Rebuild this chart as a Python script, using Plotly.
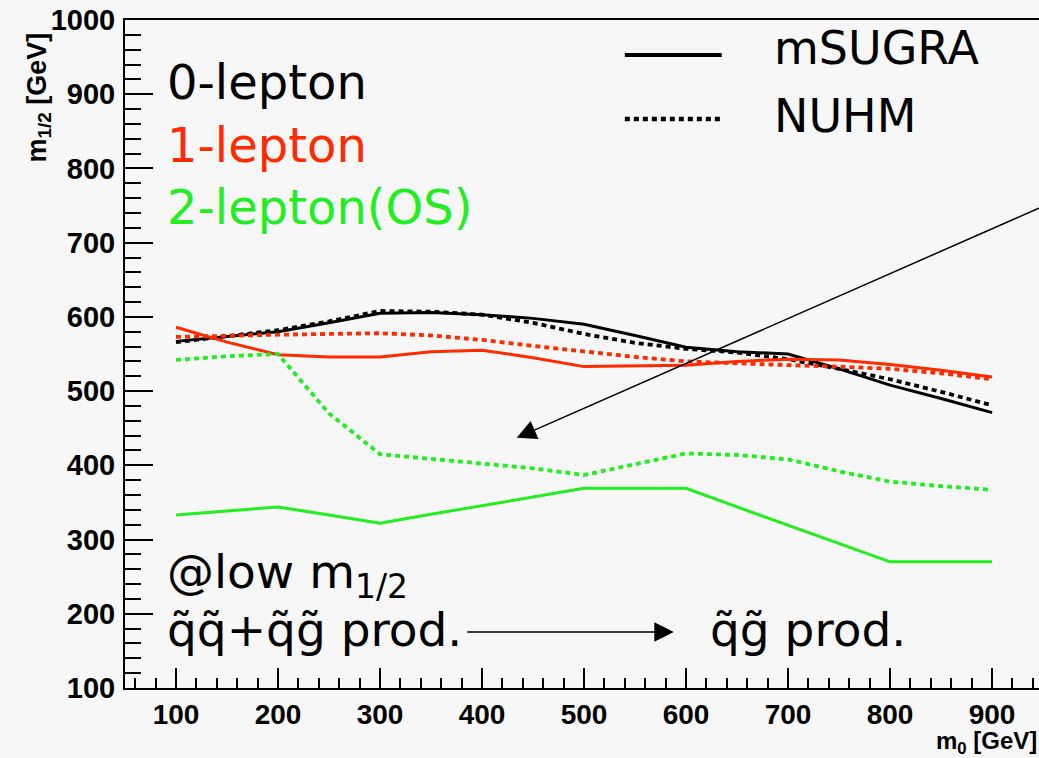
import plotly.graph_objects as go

# ---------------- data ----------------
m0 = [100, 150, 200, 250, 300, 350, 400, 450, 500, 550, 600, 650, 700, 750, 800, 850, 900]

lep0_msugra = [567, 573, 580, 592, 605, 606, 603, 598, 590, 575, 559, 553, 550, 530, 508, 490, 471]
lep0_nuhm   = [566, 574, 582, 594, 608, 607, 603, 592, 577, 565, 557, 552, 543, 530, 516, 499, 481]
lep1_msugra = [586, 566, 549, 546, 546, 553, 555, 545, 533, 534, 535, 540, 543, 542, 536, 528, 519]
lep1_nuhm   = [573, 575, 576, 577, 578, 575, 569, 561, 553, 546, 540, 537, 535, 533, 530, 524, 516]
lep2_msugra = [333, 339, 344, 333, 322, 334, 346, 358, 369, 369, 369, 344, 319, 294, 270, 270, 270]
lep2_nuhm   = [542, 547, 550, 470, 415, 409, 403, 396, 387, 401, 416, 414, 408, 392, 378, 372, 367]

xticks = [100, 200, 300, 400, 500, 600, 700, 800, 900]
yticks = [100, 200, 300, 400, 500, 600, 700, 800, 900, 1000]

BLACK = "#000000"
RED = "#ff2a00"
GREEN = "#22ee22"
BG = "#f7f7f7"
TXT = "DejaVu Sans"
AX = "Liberation Sans"
DOT = "5px,4px"

fig = go.Figure()

series = [
    (lep0_msugra, BLACK, "solid"),
    (lep0_nuhm, BLACK, DOT),
    (lep1_msugra, RED, "solid"),
    (lep1_nuhm, RED, DOT),
    (lep2_msugra, GREEN, "solid"),
    (lep2_nuhm, GREEN, DOT),
]
for ys, col, dash in series:
    fig.add_trace(go.Scatter(x=m0, y=ys, mode="lines",
                             line=dict(color=col, width=3.8 if dash != "solid" else 3, dash=dash),
                             showlegend=False, hoverinfo="skip"))

annotations = [
    dict(x=89, y=916, text="0-lepton", font=dict(color=BLACK, size=48)),
    dict(x=89, y=832, text="1-lepton", font=dict(color=RED, size=48)),
    dict(x=89, y=748, text="2-lepton(OS)", font=dict(color=GREEN, size=48)),
    dict(x=684, y=962, text="mSUGRA", font=dict(color=BLACK, size=46)),
    dict(x=684, y=871, text="NUHM", font=dict(color=BLACK, size=46)),
    dict(x=89, y=252, text="@low m<sub>1/2</sub>", font=dict(color=BLACK, size=47)),
    dict(x=89, y=179, text="q\u0303q\u0303+q\u0303g\u0303 prod.", font=dict(color=BLACK, size=47)),
    dict(x=622, y=179, text="q\u0303g\u0303 prod.", font=dict(color=BLACK, size=47)),
]
for a in annotations:
    a.update(xref="x", yref="y", xanchor="left", yanchor="middle", showarrow=False)
    a["font"]["family"] = TXT

# arrows
annotations.append(dict(xref="x", yref="y", axref="x", ayref="y",
                        x=434, y=437, ax=960, ay=755, text="", showarrow=True,
                        arrowhead=2, arrowsize=2.6, arrowwidth=1.5, arrowcolor=BLACK))
annotations.append(dict(xref="x", yref="y", axref="x", ayref="y",
                        x=588, y=175.5, ax=384, ay=175.5, text="", showarrow=True,
                        arrowhead=2, arrowsize=2.6, arrowwidth=1.5, arrowcolor=BLACK))

# axis titles
annotations.append(dict(xref="paper", yref="paper", x=1.0, y=-0.081, xanchor="right", yanchor="middle",
                        text="<b>m<sub>0</sub> [GeV]</b>", showarrow=False,
                        font=dict(family=AX, size=24, color=BLACK)))
annotations.append(dict(xref="paper", yref="paper", x=-0.094, y=0.884, xanchor="center", yanchor="middle",
                        text="<b>m<sub>1/2</sub> [GeV]</b>", textangle=-90, showarrow=False,
                        font=dict(family=AX, size=27, color=BLACK)))

shapes = [
    dict(type="line", xref="x", yref="y", x0=540, x1=635, y0=953, y1=953, line=dict(color=BLACK, width=4)),
    dict(type="line", xref="x", yref="y", x0=540, x1=635, y0=866.5, y1=866.5, line=dict(color=BLACK, width=4.5, dash=DOT)),
]

fig.update_layout(
    width=1039, height=758,
    margin=dict(l=125, r=0, t=20, b=70),
    paper_bgcolor=BG, plot_bgcolor=BG,
    annotations=annotations, shapes=shapes,
    xaxis=dict(range=[50, 946], tickvals=xticks, ticktext=[str(v) for v in xticks],
               ticks="inside", ticklen=20, tickwidth=2, tickcolor=BLACK,
               minor=dict(dtick=20, tick0=0, ticks="inside", ticklen=10, tickwidth=2, tickcolor=BLACK),
               showline=True, linecolor=BLACK, linewidth=2, mirror=True,
               showgrid=False, zeroline=False, ticklabelstandoff=0,
               tickfont=dict(family=AX, size=28, color=BLACK, weight="bold")),
    yaxis=dict(range=[100, 1000], tickvals=yticks, ticktext=[str(v) for v in yticks],
               ticks="inside", ticklen=28, tickwidth=2, tickcolor=BLACK,
               minor=dict(dtick=20, tick0=0, ticks="inside", ticklen=16, tickwidth=2, tickcolor=BLACK),
               showline=True, linecolor=BLACK, linewidth=2, mirror=False,
               showgrid=False, zeroline=False, ticklabelstandoff=2,
               tickfont=dict(family=AX, size=29, color=BLACK, weight="bold")),
)

fig.write_html("out.html")
